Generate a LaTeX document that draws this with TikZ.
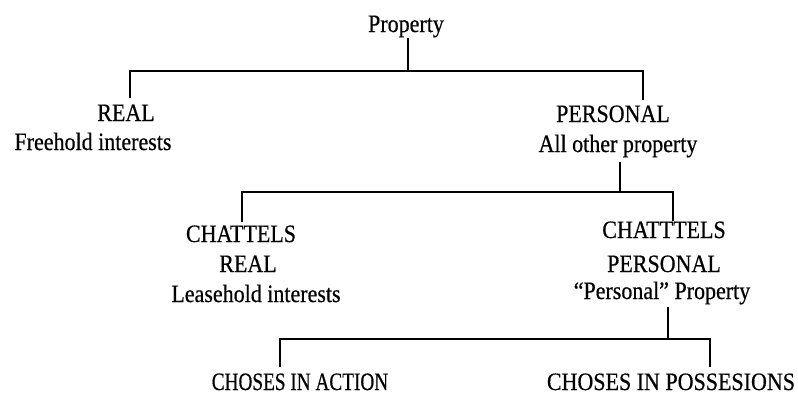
\documentclass[tikz,border=0pt]{standalone}
\usepackage{fontspec}
\setmainfont{Liberation Serif}[FakeStretch=0.88,FakeBold=0.5]
\newfontfamily\narrowfont{Liberation Serif}[FakeStretch=0.77,FakeBold=0.5]

\begin{document}
\begin{tikzpicture}[x=1pt,y=-1pt,
  lbl/.style={anchor=base,inner sep=0pt,font=\fontsize{25}{30}\selectfont},
  branch/.style={black,line width=2pt}]
\useasboundingbox (0,0) rectangle (798,394);
% top level
\node[lbl] (prop) at (406,32) {Property};
\node[lbl] (real) at (126,121) {REAL};
\node[lbl] (realsub) at (93,150) {Freehold interests};
\node[lbl] (pers) at (613,122) {PERSONAL};
\node[lbl] (perssub) at (618,152) {All other property};
% chattels
\node[lbl] (chreal) at (241,242) {CHATTELS};
\node[lbl] (chrealtyp) at (248,272) {REAL};
\node[lbl] (chrealsub) at (256,302) {Leasehold interests};
\node[lbl] (chpers) at (664,238) {CHATTTELS};
\node[lbl] (chperstyp) at (664,272) {PERSONAL};
\node[lbl] (chperssub) at (662,299) {“Personal” Property};
% choses
\node[lbl] (action) at (300,390) {\narrowfont CHOSES IN ACTION};
\node[lbl] (possess) at (671,390) {CHOSES IN POSSESIONS};
% brackets
\coordinate (b1l) at (130,71);
\coordinate (b1m) at (408,71);
\coordinate (b1r) at (643,71);
\draw[branch] (b1m |- prop.south) -- (b1m);
\draw[branch,shorten <=6.5pt,shorten >=5.5pt] (b1l |- real.north) |- (b1r) -- (b1r |- pers.north);
\coordinate (b2l) at (242,192);
\coordinate (b2m) at (620,192);
\coordinate (b2r) at (673,192);
\draw[branch,shorten <=4.5pt] (b2m |- perssub.south) -- (b2m);
\draw[branch,shorten <=3pt] (b2l |- chreal.north) |- (b2r) -- (b2r |- chpers.north);
\coordinate (b3l) at (280,339);
\coordinate (b3m) at (668,339);
\coordinate (b3r) at (710,339);
\draw[branch,shorten <=2.5pt] (b3m |- chperssub.south) -- (b3m);
\draw[branch,shorten <=6pt,shorten >=6pt] (b3l |- action.north) |- (b3r) -- (b3r |- possess.north);
\end{tikzpicture}
\end{document}
